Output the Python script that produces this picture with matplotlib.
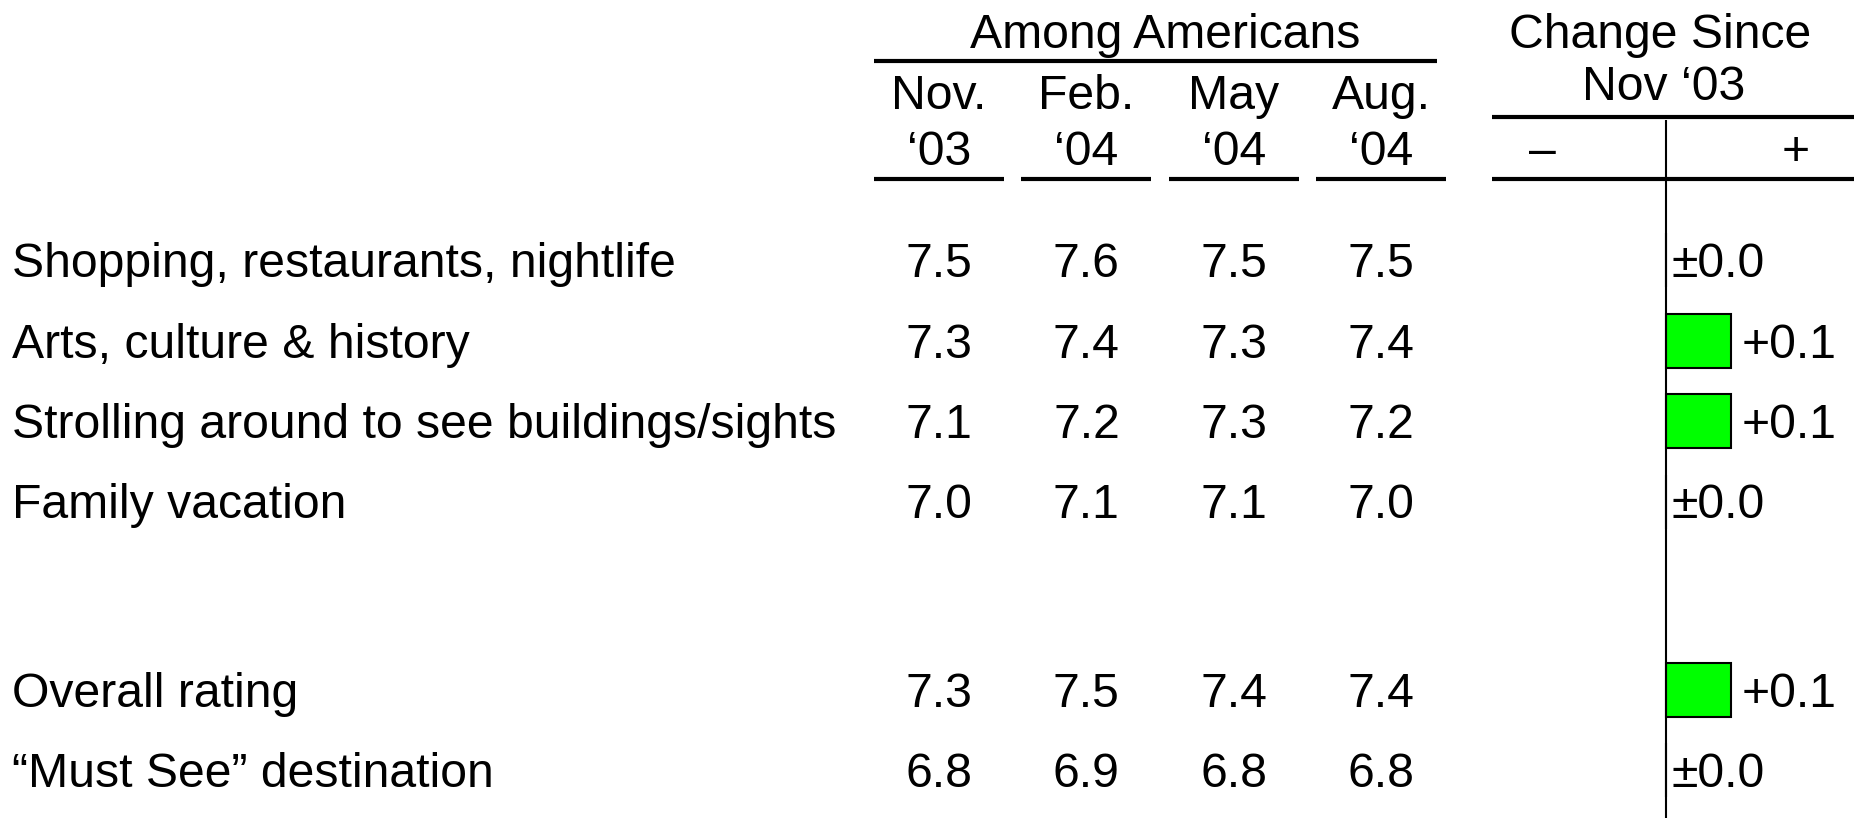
import matplotlib
matplotlib.use("Agg")
import matplotlib.pyplot as plt

# --- data ---
categories = [
    "Shopping, restaurants, nightlife",
    "Arts, culture & history",
    "Strolling around to see buildings/sights",
    "Family vacation",
    "Overall rating",
    "\u201cMust See\u201d destination",
]
period_month = ["Nov.", "Feb.", "May", "Aug."]
period_year = ["\u201803", "\u201804", "\u201804", "\u201804"]
nov03 = [7.5, 7.3, 7.1, 7.0, 7.3, 6.8]
feb04 = [7.6, 7.4, 7.2, 7.1, 7.5, 6.9]
may04 = [7.5, 7.3, 7.3, 7.1, 7.4, 6.8]
aug04 = [7.5, 7.4, 7.2, 7.0, 7.4, 6.8]
change = [0.0, 0.1, 0.1, 0.0, 0.1, 0.0]

# row slots (the gap before "Overall rating" is a blank row)
row_slot = [0, 1, 2, 3, 5.34, 6.34]

# --- layout (pixel canvas) ---
W, H = 1854, 818
plt.rcParams['font.family'] = ['Liberation Sans', 'DejaVu Sans']
fs = 34.7

fig = plt.figure(figsize=(W / 100, H / 100), dpi=100)
ax = fig.add_axes([0, 0, 1, 1])
ax.set_xlim(0, W)
ax.set_ylim(H, 0)
ax.axis('off')

row_base = 277     # baseline of first row
row_step = 80.5
col_x = [939 + 147.4 * i for i in range(4)]
half = 65
zero_x = 1666      # divider of the change column
chg_left, chg_right = 1492, W
px_per_unit = 650  # change axis scale

def row_y(s):
    return row_base + row_step * s

def rule(x0, x1, y):
    ax.plot([x0, x1], [y, y], color='black', lw=3, solid_capstyle='butt')

# headers
ax.text(1165, 48, "Among Americans", fontsize=fs, ha='center', va='baseline')
rule(col_x[0] - half, col_x[-1] + half - 9, 61)
for x, m, yr in zip(col_x, period_month, period_year):
    ax.text(x, 109, m, fontsize=fs, ha='center', va='baseline')
    ax.text(x, 165, yr, fontsize=fs, ha='center', va='baseline')
    rule(x - half, x + half, 179)

ax.text(zero_x - 6, 48, "Change Since", fontsize=fs, ha='center', va='baseline')
ax.text(zero_x - 2, 100, "Nov \u201803", fontsize=fs, ha='center', va='baseline')
rule(chg_left, chg_right, 117)
rule(chg_left, chg_right, 179)
ax.text(1542, 165, "\u2013", fontsize=fs, ha='center', va='baseline')
ax.text(1796, 165, "+", fontsize=fs, ha='center', va='baseline')

# rows
for i, name in enumerate(categories):
    y = row_y(row_slot[i])
    ax.text(12, y, name, fontsize=fs, ha='left', va='baseline')
    for x, series in zip(col_x, [nov03, feb04, may04, aug04]):
        ax.text(x, y, f"{series[i]:.1f}", fontsize=fs, ha='center', va='baseline')

# change bars on their own axis
bx = fig.add_axes([chg_left / W, 0, (chg_right - chg_left) / W, 1])
bx.set_xlim(-(zero_x - chg_left) / px_per_unit, (chg_right - zero_x) / px_per_unit)
bx.set_ylim(H, 0)
bx.axis('off')
bx.vlines(0, 120, H, color='black', lw=1.5)
ycent = [row_y(s) - 17 for s in row_slot]
bx.barh(ycent, change, height=54, left=0, color='#00ff00', edgecolor='black', lw=1.5)
for s, c in zip(row_slot, change):
    lab = "\u00b10.0" if c == 0 else f"+{c:.1f}"
    bx.text(c + (0.016 if c else 0.009), row_y(s), lab, fontsize=fs, ha='left', va='baseline')

fig.savefig("out.png", dpi=100)
